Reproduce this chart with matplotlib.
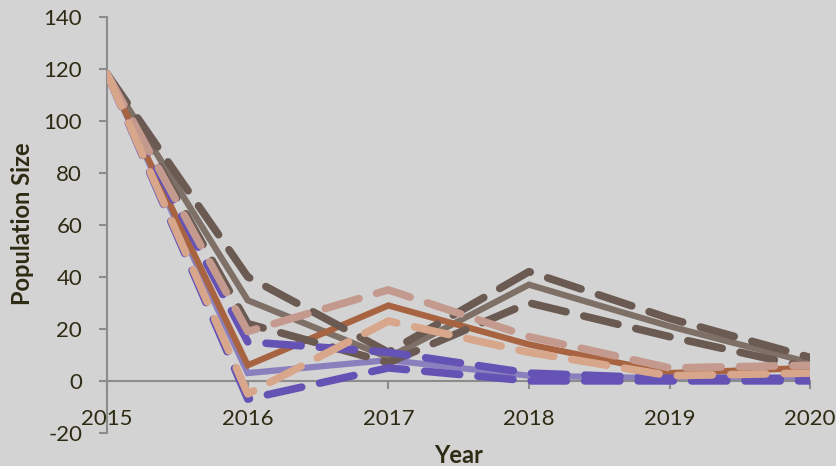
import matplotlib
matplotlib.use("Agg")
import matplotlib.pyplot as plt

# population estimates per year: mean with upper / lower bounds
years = [2015, 2016, 2017, 2018, 2019, 2020]

gray_mean = [118, 31, 9, 37, 21, 7]
gray_hi = [118, 40, 11, 42, 24, 9]
gray_lo = [118, 22, 7, 30, 17, 5]

orange_mean = [118, 6, 29, 14, 3, 5]
orange_hi = [118, 19, 35, 17, 5, 6]
orange_lo = [118, -5, 23, 11, 2, 3]

purple_mean = [118, 3, 8, 2, 1, 1]
purple_hi = [118, 15, 11, 3, 1, 1]
purple_lo = [118, -7, 5, 0, 0, 0]

text_color = "#2e2b14"
bg = "#d3d3d3"

plt.rcParams["font.family"] = ["Lato", "DejaVu Sans"]
plt.rcParams["axes.unicode_minus"] = False

fig = plt.figure(figsize=(8.37, 4.66), dpi=100, facecolor=bg)
ax = fig.add_axes([0.128, 0.071, 0.84, 0.893])
ax.set_facecolor(bg)

dash_kw = dict(lw=5.5, dashes=(4.6, 2.4), dash_capstyle="round", solid_capstyle="round")
solid_kw = dict(lw=4.5, solid_capstyle="butt", solid_joinstyle="miter")

# solid means
ax.plot(years, purple_mean, color="#8a80bd", zorder=2, **solid_kw)
ax.plot(years, gray_mean, color="#7e7067", zorder=2, **solid_kw)
ax.plot(years, orange_mean, color="#a86440", zorder=3, **solid_kw)

# dashed bounds
ax.plot(years, gray_hi, color="#6a5a52", zorder=4, **dash_kw)
ax.plot(years, gray_lo, color="#6a5a52", zorder=4, **dash_kw)
ax.plot(years, purple_hi, color="#6453b5", zorder=5, **dash_kw)
ax.plot(years, purple_lo, color="#6453b5", zorder=5, **dash_kw)
ax.plot(years, orange_hi, color="#c49a8e", zorder=6, **dash_kw)
ax.plot(years, orange_lo, color="#d8a68b", zorder=6, **dash_kw)

ax.set_xlim(2015, 2020)
ax.set_ylim(-20, 140)
ax.set_xticks(years)
ax.set_yticks(range(-20, 141, 20))

for side in ("top", "right"):
    ax.spines[side].set_visible(False)
ax.spines["bottom"].set_position(("data", 0))
for side in ("left", "bottom"):
    ax.spines[side].set_color("#8c8c8c")
    ax.spines[side].set_linewidth(1.5)

ax.tick_params(axis="both", colors="#8c8c8c", width=1.5, length=6,
               labelcolor=text_color, labelsize=16)
ax.tick_params(axis="x", pad=14)
ax.tick_params(axis="y", pad=12)

fig.text(0.027, 0.52, "Population Size", rotation=90, ha="center", va="center",
         fontsize=17, fontweight="bold", color=text_color)
fig.text(0.548, 0.022, "Year", ha="center", va="center",
         fontsize=17, fontweight="bold", color=text_color)

fig.savefig("out.png", dpi=100, facecolor=bg)
